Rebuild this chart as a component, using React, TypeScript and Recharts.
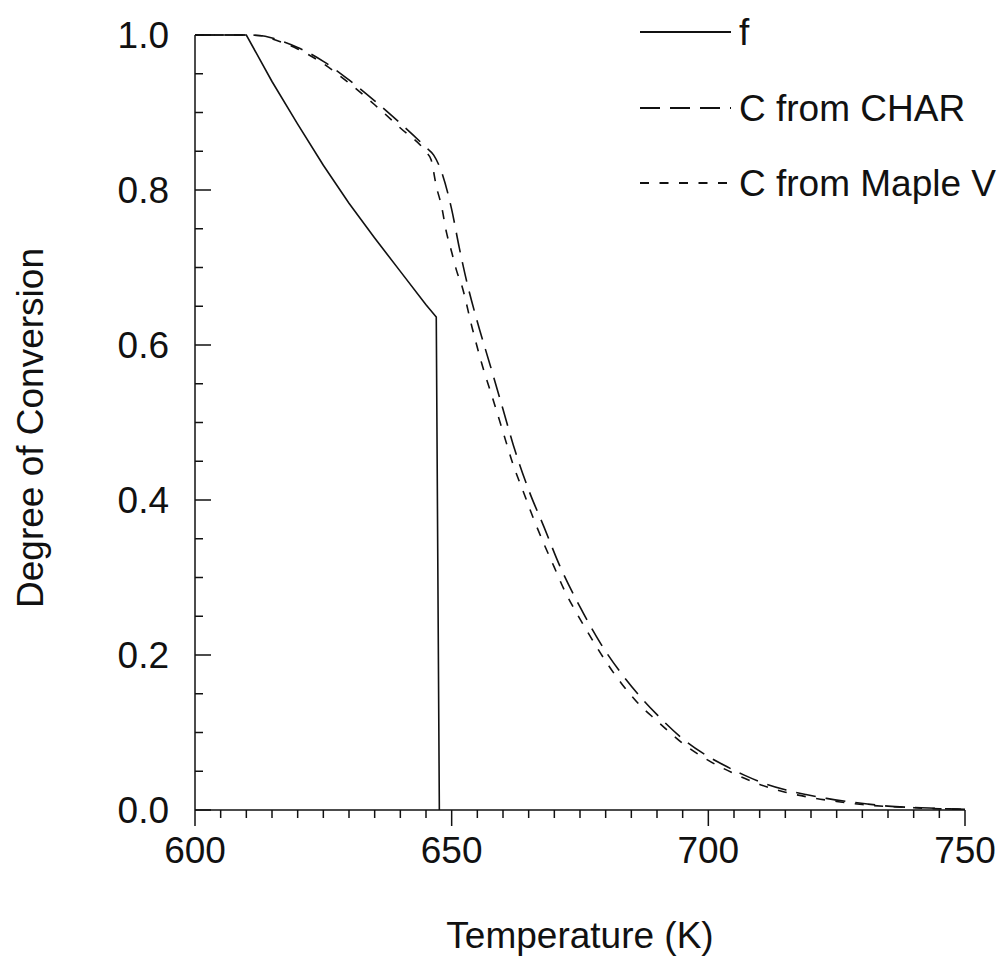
import { LineChart, Line, XAxis, YAxis } from "recharts";

// temperature (K) / value pairs
const fTemp = [600, 610, 615, 620, 625, 630, 635, 640, 645, 647, 647.6];
const fVal = [1.0, 1.0, 0.94, 0.885, 0.832, 0.783, 0.738, 0.695, 0.652, 0.636, 0.0];

const charTemp = [
  600, 610, 613, 615, 620, 625, 630, 635, 640, 645, 646.5, 648, 650, 651.5, 653, 655,
  657.5, 660, 662, 665, 668, 671, 675, 679, 684, 690, 695, 699, 703, 707, 711, 715,
  719, 723, 727, 731, 735, 739, 743, 747, 750,
];
const charVal = [
  1.0, 1.0, 0.999, 0.996, 0.984, 0.966, 0.942, 0.915, 0.886, 0.855, 0.845, 0.824, 0.775,
  0.725, 0.68, 0.63, 0.574, 0.517, 0.471, 0.413, 0.365, 0.316, 0.262, 0.215, 0.168, 0.123,
  0.092, 0.073, 0.058, 0.045, 0.034, 0.026, 0.02, 0.015, 0.011, 0.0077, 0.005, 0.0035,
  0.0025, 0.0015, 0.001,
];

const mapleTemp = [
  600, 610, 613, 615, 620, 625, 630, 635, 640, 645, 646, 647, 648, 649, 650, 651, 652,
  654, 656, 658, 660, 662, 664, 666, 668, 670, 672, 674, 676, 678, 680, 683, 686, 690,
  695, 700, 705, 710, 715, 720, 725, 730, 735, 740, 745, 750,
];
const mapleVal = [
  1.0, 1.0, 0.999, 0.995, 0.982, 0.963, 0.938, 0.91, 0.88, 0.849, 0.839, 0.805, 0.78,
  0.745, 0.72, 0.695, 0.676, 0.622, 0.573, 0.531, 0.488, 0.445, 0.41, 0.375, 0.343, 0.313,
  0.283, 0.258, 0.235, 0.213, 0.192, 0.164, 0.14, 0.115, 0.086, 0.064, 0.047, 0.033, 0.023,
  0.016, 0.011, 0.007, 0.0045, 0.003, 0.0015, 0.001,
];

const xMajor = [600, 650, 700, 750];
const yMajor = [0.0, 0.2, 0.4, 0.6, 0.8, 1.0];
const xTicks = Array.from({ length: 31 }, (_, i) => 600 + i * 5);
const yTicks = Array.from({ length: 21 }, (_, i) => Math.round(i * 5) / 100);

const legendNames = ["f", "C from CHAR", "C from Maple V"];
const legendDash = ["", "20 10", "9 10.5"];

const toRows = (t: number[], v: number[]) => t.map((x, i) => ({ t: x, v: v[i] }));
const fData = toRows(fTemp, fVal);
const charData = toRows(charTemp, charVal);
const mapleData = toRows(mapleTemp, mapleVal);

const FONT = '"Liberation Sans", Arial, Helvetica, sans-serif';
const INK = "#111";
const FS = 37;

function YTick(props: any) {
  const { x, y, payload } = props;
  const v = payload.value;
  const major = yMajor.some((m) => Math.abs(m - v) < 1e-6);
  return (
    <g>
      <line x1={x} x2={x + (major ? 16 : 8)} y1={y} y2={y} stroke={INK} strokeWidth={1.5} />
      {major && (
        <text x={x - 26} y={y} dy={13} textAnchor="end" fontSize={FS} fontFamily={FONT} fill={INK}>
          {v.toFixed(1)}
        </text>
      )}
    </g>
  );
}

function XTick(props: any) {
  const { x, y, payload } = props;
  const v = payload.value;
  const major = xMajor.includes(v);
  return (
    <g>
      <line x1={x} x2={x} y1={y} y2={y + (major ? 16 : 8)} stroke={INK} strokeWidth={1.5} />
      {major && (
        <text x={x} y={y} dy={53} textAnchor="middle" fontSize={FS} fontFamily={FONT} fill={INK}>
          {v}
        </text>
      )}
    </g>
  );
}

function LegendBox() {
  const rows = [32, 108, 183];
  return (
    <svg width={1005} height={220} style={{ display: "block" }}>
      {legendNames.map((name, i) => (
        <g key={name}>
          <line
            x1={640}
            x2={731}
            y1={rows[i]}
            y2={rows[i]}
            stroke={INK}
            strokeWidth={1.8}
            strokeDasharray={legendDash[i] || undefined}
          />
          <text x={739} y={rows[i]} dy={13} fontSize={FS} fontFamily={FONT} fill={INK}>
            {name}
          </text>
        </g>
      ))}
    </svg>
  );
}

export default function App() {
  return (
    <div style={{ position: "absolute", left: 0, top: 0, width: 1005, height: 956, background: "#fff" }}>
      <LineChart width={1005} height={956} margin={{ top: 35, right: 40, left: 45, bottom: 86 }}>
        <XAxis
          type="number"
          dataKey="t"
          domain={[600, 750]}
          ticks={xTicks}
          interval={0}
          height={60}
          tickSize={0}
          tickMargin={0}
          tickLine={false}
          axisLine={{ stroke: INK, strokeWidth: 1.5 }}
          tick={<XTick />}
          allowDuplicatedCategory={false}
          label={{
            content: () => (
              <text x={580} y={948} textAnchor="middle" fontSize={FS} fontFamily={FONT} fill={INK}>
                Temperature (K)
              </text>
            ),
          }}
        />
        <YAxis
          type="number"
          domain={[0, 1]}
          ticks={yTicks}
          interval={0}
          width={150}
          tickSize={0}
          tickMargin={0}
          tickLine={false}
          axisLine={{ stroke: INK, strokeWidth: 1.5 }}
          tick={<YTick />}
          label={{
            content: () => (
              <text
                x={43}
                y={428}
                transform="rotate(-90, 43, 428)"
                textAnchor="middle"
                fontSize={FS}
                fontFamily={FONT}
                fill={INK}
              >
                Degree of Conversion
              </text>
            ),
          }}
        />
        <Line
          data={fData}
          dataKey="v"
          type="linear"
          stroke={INK}
          strokeWidth={1.6}
          dot={false}
          activeDot={false}
          isAnimationActive={false}
        />
        <Line
          data={charData}
          dataKey="v"
          type="monotone"
          stroke={INK}
          strokeWidth={1.6}
          strokeDasharray="20 10"
          dot={false}
          activeDot={false}
          isAnimationActive={false}
        />
        <Line
          data={mapleData}
          dataKey="v"
          type="monotone"
          stroke={INK}
          strokeWidth={1.6}
          strokeDasharray="9 10.5"
          dot={false}
          activeDot={false}
          isAnimationActive={false}
        />
      </LineChart>
      <div style={{ position: "absolute", left: 0, top: 0, pointerEvents: "none" }}>
        <LegendBox />
      </div>
    </div>
  );
}
